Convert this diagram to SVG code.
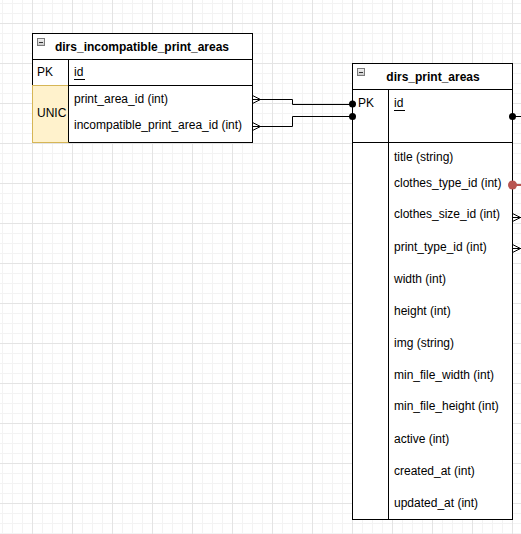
<svg xmlns="http://www.w3.org/2000/svg" width="521" height="534" viewBox="0 0 521 534">
<style>
text{font-family:"Liberation Sans",Arial,sans-serif;font-size:12px;fill:#000;dominant-baseline:central}
.title{font-weight:bold}
.box{fill:#fff;stroke:#000;stroke-width:1}
.ln{stroke:#000;stroke-width:1;fill:none}
.edge{stroke:#000;stroke-width:1;fill:none}
</style>
<defs>
<pattern id="minor" x="2" y="3" width="10" height="10" patternUnits="userSpaceOnUse">
<path d="M0.5 0V10M0 0.5H10" stroke="#f3f3f3" stroke-width="1" fill="none"/>
</pattern>
<pattern id="major" x="32" y="23" width="40" height="40" patternUnits="userSpaceOnUse">
<path d="M0.5 0V40M0 0.5H40" stroke="#e4e4e4" stroke-width="1" fill="none"/>
</pattern>
<linearGradient id="ig" x1="0" y1="0" x2="0" y2="1">
<stop offset="0" stop-color="#f4f4f4"/>
<stop offset="1" stop-color="#c8c8c8"/>
</linearGradient>
<g id="minus">
<rect x="0.5" y="0.5" width="7" height="7" fill="url(#ig)" stroke="#7a7a7a" stroke-width="1"/>
<path d="M2 4.5H6" stroke="#333" stroke-width="1"/>
</g>
</defs>
<rect width="521" height="534" fill="#fff"/>
<rect width="521" height="534" fill="url(#minor)"/>
<rect width="521" height="534" fill="url(#major)"/>

<g id="dirs_incompatible_print_areas">
<rect class="box" x="32.5" y="33.5" width="220" height="109"/>
<line class="ln" x1="32.5" y1="59.5" x2="252.5" y2="59.5"/>
<line class="ln" x1="32.5" y1="85.5" x2="252.5" y2="85.5"/>
<rect x="32.5" y="85.5" width="36" height="57" fill="#fff2cc" stroke="#d6b656" stroke-width="1"/>
<line class="ln" x1="68.5" y1="59.5" x2="68.5" y2="142.5"/>
<use href="#minus" x="37" y="38"/>
<text class="title" x="142" y="46.5" text-anchor="middle">dirs_incompatible_print_areas</text>
<text x="37" y="72">PK</text>
<text x="74" y="72">id</text>
<line x1="74" y1="79.5" x2="85" y2="79.5" stroke="#000" stroke-width="1"/>
<text x="37" y="113">UNIC</text>
<text x="74" y="98.5">print_area_id (int)</text>
<text x="74" y="125">incompatible_print_area_id (int)</text>
</g>

<g id="dirs_print_areas">
<rect class="box" x="352.5" y="63.5" width="160" height="456"/>
<line class="ln" x1="352.5" y1="89.5" x2="512.5" y2="89.5"/>
<line class="ln" x1="352.5" y1="142.5" x2="512.5" y2="142.5"/>
<line class="ln" x1="388.5" y1="89.5" x2="388.5" y2="519.5"/>
<use href="#minus" x="357" y="68"/>
<text class="title" x="433" y="76.5" text-anchor="middle">dirs_print_areas</text>
<text x="358" y="103">PK</text>
<text x="394" y="103">id</text>
<line x1="394" y1="110.5" x2="405" y2="110.5" stroke="#000" stroke-width="1"/>
<text x="394" y="156.5">title (string)</text>
<text x="394" y="183">clothes_type_id (int)</text>
<text x="394" y="214">clothes_size_id (int)</text>
<text x="394" y="246.5">print_type_id (int)</text>
<text x="394" y="279">width (int)</text>
<text x="394" y="311">height (int)</text>
<text x="394" y="342.5">img (string)</text>
<text x="394" y="374.5">min_file_width (int)</text>
<text x="394" y="406">min_file_height (int)</text>
<text x="394" y="438.5">active (int)</text>
<text x="394" y="470.5">created_at (int)</text>
<text x="394" y="502.5">updated_at (int)</text>
</g>

<g id="connectors">
<path class="edge" d="M252.5 99.5H292.5V104.5H352.5"/>
<path class="edge" d="M252.5 126.5H292.5V116.5H352.5"/>
<path class="edge" d="M260.5 99.5L252.5 95.5M260.5 99.5L252.5 103.5"/>
<path class="edge" d="M260.5 126.5L252.5 122.5M260.5 126.5L252.5 130.5"/>
<circle cx="352.5" cy="104" r="3.5" fill="#000"/>
<circle cx="352.5" cy="116.5" r="3.5" fill="#000"/>
<path class="edge" d="M512.5 116.5H521"/>
<circle cx="512.5" cy="116.5" r="3.5" fill="#000"/>
<path d="M512.5 185H521" stroke="#b85450" stroke-width="2" fill="none"/>
<circle cx="512.5" cy="185" r="4.5" fill="#b85450"/>
<path class="edge" d="M512.5 217.5H521M512.5 213.5L520.5 217.5L512.5 221.5"/>
<path class="edge" d="M512.5 248.5H521M512.5 244.5L520.5 248.5L512.5 252.5"/>
</g>
</svg>
